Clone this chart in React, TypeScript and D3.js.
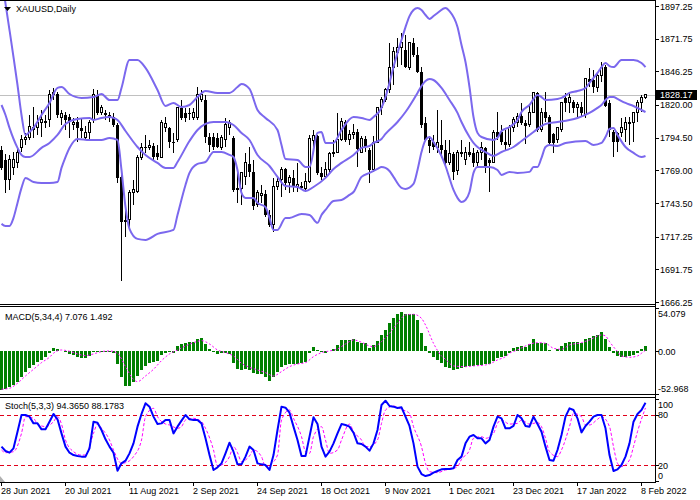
import React from "react";
import * as d3 from "d3";

const title = "XAUUSD,Daily";
const dateLabels = ["28 Jun 2021", "20 Jul 2021", "11 Aug 2021", "2 Sep 2021", "24 Sep 2021", "18 Oct 2021", "9 Nov 2021", "1 Dec 2021", "23 Dec 2021", "17 Jan 2022", "8 Feb 2022"];
const dateBars = [0, 16, 32, 48, 64, 80, 96, 112, 128, 144, 160];
const priceTicks = [1897.25, 1871.75, 1846.25, 1820.0, 1794.5, 1769.0, 1743.5, 1717.25, 1691.75, 1666.25];
const lastPrice = 1828.17;

const opens = [1784.9,1777.1,1761.5,1770.9,1774.8,1786.5,1792.7,1795.0,1800.5,1802.8,1806.0,1806.0,1808.3,1827.8,1828.6,1809.9,1812.2,1810.6,1804.4,1806.7,1802.1,1795.0,1798.9,1808.3,1827.8,1813.8,1813.8,1812.2,1810.6,1804.4,1763.9,1730.3,1730.3,1751.4,1752.1,1778.7,1787.2,1786.5,1788.0,1782.6,1779.4,1802.1,1802.1,1791.1,1792.7,1817.7,1813.8,1813.8,1809.9,1809.9,1823.9,1823.9,1795.0,1795.0,1794.3,1787.2,1792.7,1802.8,1794.3,1755.3,1754.5,1763.9,1774.0,1767.8,1742.0,1749.0,1750.6,1734.2,1726.4,1756.0,1761.5,1770.1,1759.2,1763.1,1756.0,1756.8,1754.5,1759.9,1791.9,1795.8,1767.0,1763.9,1769.3,1781.8,1783.3,1792.7,1806.7,1792.7,1796.6,1798.9,1783.3,1793.5,1784.9,1769.3,1791.1,1818.4,1823.9,1831.7,1849.6,1861.3,1864.5,1862.9,1848.9,1868.4,1859.0,1845.7,1806.0,1792.7,1791.1,1787.2,1788.8,1784.9,1774.8,1781.8,1768.5,1782.6,1777.1,1783.3,1782.6,1774.8,1783.3,1786.5,1777.1,1775.5,1798.9,1798.9,1791.1,1788.8,1802.8,1806.7,1811.4,1806.0,1804.4,1814.5,1829.4,1800.5,1814.5,1810.6,1797.4,1792.7,1800.5,1825.5,1821.6,1822.3,1818.4,1818.4,1812.2,1840.3,1839.5,1834.0,1843.4,1849.6,1821.6,1798.9,1798.2,1798.2,1800.5,1806.7,1806.0,1813.8,1821.6,1825.5];
const highs = [1788.0,1781.8,1781.0,1783.3,1786.5,1796.6,1798.2,1812.2,1818.4,1812.2,1816.1,1812.2,1831.7,1833.3,1830.1,1816.1,1814.5,1813.0,1809.9,1810.6,1809.9,1803.6,1808.3,1832.5,1831.7,1820.0,1816.1,1814.5,1813.8,1806.0,1765.4,1740.4,1753.7,1761.5,1781.0,1790.4,1796.6,1792.7,1790.4,1788.8,1808.3,1810.6,1802.8,1798.2,1818.4,1823.9,1817.7,1817.7,1817.7,1834.0,1831.7,1827.8,1798.2,1798.2,1798.2,1796.6,1809.9,1808.3,1795.8,1767.0,1767.8,1782.6,1787.2,1777.1,1753.7,1757.6,1753.7,1738.1,1763.1,1763.1,1771.6,1770.9,1765.4,1769.3,1774.8,1759.9,1767.0,1796.6,1800.5,1796.6,1771.6,1775.5,1783.3,1792.7,1813.8,1809.9,1808.3,1800.5,1805.2,1801.3,1795.8,1795.8,1786.5,1795.8,1818.4,1826.2,1833.3,1868.4,1865.2,1872.3,1876.2,1874.6,1869.1,1872.3,1865.2,1849.6,1810.6,1795.8,1796.6,1816.1,1808.3,1792.7,1792.7,1783.3,1784.9,1792.7,1787.2,1791.1,1786.5,1784.9,1791.1,1787.2,1778.7,1800.5,1814.5,1804.4,1800.5,1804.4,1810.6,1813.8,1821.6,1808.3,1820.0,1830.1,1830.1,1817.7,1830.1,1812.2,1798.2,1802.8,1822.3,1829.4,1829.4,1823.9,1822.3,1822.3,1841.1,1848.9,1847.3,1845.7,1853.5,1851.2,1823.9,1800.5,1798.9,1809.9,1810.6,1810.6,1814.5,1823.9,1827.8,1828.6];
const lows = [1769.3,1751.4,1753.7,1765.4,1770.9,1783.3,1788.8,1792.7,1794.3,1796.6,1795.0,1802.1,1802.8,1823.9,1809.9,1804.4,1800.5,1794.3,1800.5,1791.1,1794.3,1792.7,1792.7,1806.0,1812.2,1812.2,1808.3,1806.7,1802.8,1759.2,1682.7,1717.0,1722.5,1742.0,1751.4,1777.1,1782.6,1784.9,1777.1,1777.1,1778.7,1798.9,1786.5,1782.6,1791.1,1808.3,1806.7,1808.3,1808.3,1808.3,1822.3,1790.4,1783.3,1784.9,1786.5,1784.9,1787.2,1796.6,1752.1,1743.6,1742.0,1757.6,1763.9,1738.1,1740.4,1743.6,1732.6,1724.8,1720.9,1753.7,1748.2,1753.7,1751.4,1752.1,1752.1,1753.7,1752.1,1759.2,1787.2,1765.4,1761.5,1763.1,1767.0,1779.4,1782.6,1791.9,1791.1,1788.8,1793.5,1771.6,1782.6,1783.3,1759.2,1767.8,1790.4,1812.2,1822.3,1829.4,1835.6,1849.6,1851.2,1848.9,1847.3,1857.4,1845.0,1802.1,1792.7,1782.6,1784.9,1782.6,1778.7,1771.6,1773.2,1761.5,1765.4,1779.4,1773.2,1779.4,1771.6,1771.6,1777.1,1767.0,1752.1,1774.8,1792.7,1788.8,1784.9,1787.2,1798.9,1802.8,1804.4,1789.6,1802.8,1813.8,1798.9,1798.9,1806.7,1788.8,1782.6,1790.4,1798.9,1814.5,1813.8,1813.8,1810.6,1810.6,1809.9,1834.0,1829.4,1830.1,1837.9,1818.4,1795.0,1779.4,1783.3,1795.0,1791.1,1788.8,1791.1,1806.7,1814.5,1824.7];
const closes = [1770.9,1761.5,1777.1,1777.1,1783.3,1792.7,1795.0,1803.6,1802.1,1806.0,1808.3,1807.5,1827.8,1829.4,1812.2,1813.0,1808.3,1806.7,1806.7,1802.1,1799.7,1798.9,1806.0,1827.8,1813.8,1818.4,1812.2,1810.6,1804.4,1763.1,1728.7,1728.7,1751.4,1753.7,1779.4,1787.2,1786.5,1788.0,1779.4,1779.4,1806.0,1805.2,1791.1,1790.4,1817.7,1809.9,1809.9,1813.0,1813.8,1827.8,1827.8,1795.0,1788.8,1787.2,1787.2,1794.3,1804.4,1806.0,1753.7,1753.7,1767.0,1774.8,1767.8,1741.2,1751.4,1750.6,1734.2,1726.4,1756.0,1759.9,1769.3,1759.2,1763.1,1756.0,1757.6,1755.3,1759.9,1793.5,1795.8,1767.0,1763.9,1769.3,1781.8,1783.3,1792.7,1807.5,1792.7,1796.6,1798.9,1785.7,1793.5,1787.2,1769.3,1791.1,1818.4,1823.9,1831.7,1849.6,1862.1,1864.5,1868.4,1849.6,1868.4,1859.0,1845.7,1804.4,1792.7,1788.0,1787.2,1791.1,1784.9,1774.8,1781.8,1767.8,1782.6,1783.3,1783.3,1781.0,1774.8,1783.3,1786.5,1771.6,1774.8,1798.9,1795.0,1791.1,1788.8,1802.8,1808.3,1811.4,1806.0,1803.6,1814.5,1829.4,1800.5,1814.5,1809.9,1790.4,1790.4,1802.1,1821.6,1821.6,1825.5,1817.7,1820.0,1813.8,1840.3,1837.9,1834.0,1843.4,1848.9,1819.2,1800.5,1791.1,1791.1,1802.1,1806.7,1805.2,1813.8,1821.6,1826.2,1828.17];

const bbUpper: [number, number][] = [[0,1919.8],[2,1878.5],[3,1857.4],[4,1835.6],[5,1812.2],[6,1796.6],[7,1798.9],[8,1802.1],[10,1812.2],[12,1821.6],[14,1833.3],[15,1834.0],[17,1828.6],[20,1825.5],[23,1826.2],[25,1828.6],[27,1823.9],[29,1823.9],[30,1833.3],[32,1855.1],[34,1855.1],[36,1848.9],[39,1831.7],[41,1819.2],[43,1821.6],[45,1818.4],[47,1820.0],[49,1826.2],[51,1830.9],[54,1829.4],[57,1829.4],[59,1834.0],[60,1836.4],[62,1832.5],[64,1816.1],[66,1809.9],[69,1800.5],[70,1788.8],[71,1777.9],[74,1777.1],[76,1771.6],[77,1771.6],[79,1798.2],[80,1798.9],[81,1790.4],[83,1790.4],[85,1800.5],[88,1810.6],[90,1809.9],[92,1808.3],[93,1810.6],[95,1817.7],[96,1826.2],[97,1837.2],[98,1849.6],[100,1870.7],[101,1880.8],[102,1889.4],[103,1894.1],[104,1895.7],[105,1894.1],[106,1890.2],[107,1887.1],[108,1889.4],[109,1891.8],[111,1895.7],[112,1893.3],[114,1880.8],[115,1866.8],[116,1853.5],[117,1834.0],[118,1810.6],[119,1798.2],[120,1795.0],[123,1792.7],[124,1794.3],[125,1799.7],[127,1802.8],[129,1808.3],[130,1814.5],[132,1820.0],[134,1827.8],[135,1826.2],[136,1823.9],[139,1824.7],[140,1825.5],[142,1829.4],[144,1830.9],[146,1833.3],[147,1837.2],[149,1845.0],[150,1849.6],[151,1852.8],[152,1850.4],[153,1849.6],[155,1855.1],[158,1855.1],[160,1852.8],[161,1849.6]];
const bbMiddle: [number, number][] = [[0,1820.0],[1,1812.2],[2,1802.1],[4,1786.5],[5,1781.0],[6,1779.4],[7,1779.4],[10,1786.5],[12,1790.4],[14,1796.6],[16,1805.2],[19,1809.1],[22,1809.9],[23,1808.3],[25,1809.9],[27,1810.6],[28,1809.9],[29,1808.3],[31,1799.7],[34,1787.2],[36,1781.0],[39,1774.8],[41,1770.9],[43,1770.9],[44,1775.5],[47,1791.9],[49,1800.5],[51,1805.2],[53,1806.7],[56,1806.7],[58,1804.4],[60,1798.2],[62,1792.7],[64,1781.0],[67,1772.4],[69,1763.9],[71,1756.8],[74,1756.0],[76,1752.9],[78,1756.0],[81,1763.1],[83,1770.1],[85,1774.8],[88,1781.0],[90,1786.5],[92,1788.0],[93,1790.4],[95,1793.5],[96,1797.4],[99,1806.7],[101,1814.5],[104,1829.4],[105,1834.8],[106,1838.7],[107,1840.3],[108,1839.5],[110,1833.3],[112,1823.9],[114,1813.8],[115,1806.7],[117,1795.0],[118,1790.4],[119,1787.2],[121,1783.3],[123,1780.2],[125,1783.3],[128,1787.2],[130,1791.9],[133,1798.9],[135,1803.6],[136,1805.2],[139,1806.7],[142,1808.3],[144,1809.9],[147,1813.8],[149,1817.7],[150,1820.0],[151,1823.9],[152,1826.2],[153,1826.2],[154,1824.7],[156,1821.6],[158,1819.2],[160,1816.1],[161,1814.5]];
const bbLower: [number, number][] = [[0,1727.2],[1,1725.6],[2,1725.6],[3,1731.9],[4,1743.6],[5,1755.3],[6,1763.1],[8,1759.9],[10,1759.2],[12,1759.2],[14,1759.9],[15,1770.9],[16,1779.4],[17,1786.5],[19,1793.5],[22,1792.7],[25,1792.7],[27,1794.3],[29,1792.7],[30,1769.3],[31,1740.4],[32,1723.3],[34,1715.5],[36,1714.7],[39,1719.4],[43,1722.5],[44,1734.2],[46,1757.6],[47,1767.0],[49,1774.0],[51,1775.5],[53,1783.3],[55,1783.3],[57,1781.0],[58,1779.4],[59,1769.3],[60,1751.4],[61,1747.5],[63,1747.5],[64,1743.6],[66,1740.4],[67,1731.9],[68,1722.5],[69,1722.5],[71,1731.9],[72,1731.9],[75,1735.0],[77,1734.2],[79,1728.0],[80,1734.2],[81,1738.1],[83,1745.1],[85,1745.9],[87,1749.8],[88,1752.1],[90,1763.9],[92,1767.0],[94,1770.1],[95,1771.6],[96,1770.9],[97,1768.5],[98,1763.9],[100,1755.3],[101,1754.5],[103,1758.4],[104,1769.3],[105,1783.3],[106,1792.7],[107,1795.0],[108,1791.1],[110,1780.2],[111,1772.4],[113,1753.7],[114,1747.5],[115,1744.3],[116,1745.9],[117,1752.1],[118,1767.0],[119,1771.6],[122,1771.6],[124,1769.3],[125,1765.4],[127,1767.8],[129,1767.0],[132,1767.8],[133,1771.6],[134,1771.6],[135,1778.7],[136,1787.2],[137,1788.8],[139,1788.0],[141,1790.4],[146,1791.9],[148,1788.8],[150,1790.4],[151,1795.0],[152,1801.3],[153,1802.1],[154,1796.6],[156,1787.2],[158,1782.6],[160,1779.4],[161,1780.2]];

const macdLabel = "MACD(5,34,4) 7.076 1.492";
const macdHist = [-46.8,-46.0,-42.8,-40.8,-36.7,-31.4,-24.5,-19.7,-16.4,-13.2,-10.3,-7.1,-2.2,3.9,2.6,1.0,-1.0,-3.0,-4.3,-7.1,-8.3,-8.3,-5.5,-1.0,0.6,0.6,0.2,0.2,-1.4,-15.6,-31.4,-42.0,-42.0,-36.7,-29.8,-22.5,-17.6,-13.6,-12.4,-11.2,-4.3,-1.4,-0.6,-1.4,6.7,9.1,10.7,12.0,12.0,14.8,16.0,9.1,2.6,-0.2,-3.0,-2.2,-1.4,-3.0,-14.4,-21.3,-22.5,-21.7,-22.5,-26.6,-27.4,-27.8,-31.4,-35.9,-30.6,-24.5,-18.5,-16.4,-15.6,-15.6,-15.6,-14.4,-12.4,-1.4,5.1,1.8,-0.2,-1.4,1.0,2.6,7.9,14.0,14.0,14.0,14.8,12.0,10.7,9.9,3.9,7.9,13.2,20.1,26.2,34.3,40.3,45.6,48.5,45.2,45.6,45.6,38.3,22.9,6.7,-1.4,-7.1,-10.3,-14.4,-18.5,-19.7,-22.5,-21.3,-19.7,-18.5,-17.6,-17.6,-16.4,-16.4,-15.6,-15.6,-11.2,-8.3,-6.3,-5.5,-2.2,3.9,5.9,7.1,5.9,9.1,14.8,10.7,10.7,9.9,1.8,1.0,2.6,6.7,10.7,12.0,12.0,12.0,10.7,14.8,16.0,18.9,20.1,24.1,14.8,5.1,-2.2,-5.5,-7.1,-7.1,-5.5,-4.3,-1.4,2.6,7.076];
const macdSignal: [number, number][] = [[0,-46.0],[2,-44.8],[4,-38.7],[6,-29.8],[8,-21.7],[10,-13.6],[12,-7.1],[13,-2.2],[15,1.8],[17,0.2],[19,-3.0],[21,-5.1],[23,-3.0],[25,-0.2],[27,0.6],[29,-2.2],[31,-18.5],[33,-33.9],[34,-36.7],[36,-29.8],[38,-21.7],[40,-11.2],[42,-3.0],[44,1.8],[46,6.7],[48,10.7],[50,13.2],[52,9.1],[54,1.8],[56,-1.4],[58,-5.5],[60,-14.4],[62,-19.3],[64,-22.5],[66,-25.8],[68,-29.8],[70,-24.5],[72,-18.5],[74,-15.2],[76,-13.6],[78,-6.3],[80,-1.4],[82,0.6],[84,3.0],[86,9.1],[88,14.0],[90,11.2],[92,6.7],[93,5.9],[95,12.0],[97,22.1],[99,34.3],[101,44.4],[103,45.2],[105,40.3],[106,32.2],[108,9.9],[110,-5.5],[111,-9.5],[113,-17.6],[116,-18.5],[118,-17.6],[121,-16.4],[122,-15.2],[124,-10.3],[126,-6.3],[127,-2.2],[129,1.8],[131,6.7],[134,10.7],[136,9.9],[138,3.9],[140,2.6],[142,7.9],[145,10.7],[147,14.0],[150,20.1],[151,18.9],[152,12.0],[154,-0.2],[155,-5.5],[157,-7.1],[159,-5.5],[160,-2.2],[161,1.492]];
const macdTicks = [54.079, 0, -52.968];
const macdTickText = ["54.079", "0.00", "-52.968"];

const stochLabel = "Stoch(5,3,3) 94.3650 88.1783";
const stochMain = [42.1,36.9,34.9,40.1,59.9,79.8,79.8,77.8,69.8,69.8,62.7,62.7,71.8,81.0,74.6,57.9,42.1,34.9,32.1,31.0,30.2,30.2,40.1,71.8,70.6,61.9,50.8,42.1,34.9,13.5,22.2,25.4,34.1,46.0,65.9,81.0,93.7,89.7,77.8,69.0,69.8,73.8,73.8,57.9,65.9,73.0,79.8,74.6,73.8,73.8,69.8,52.0,32.1,14.3,17.5,22.2,34.1,46.8,36.1,21.0,21.0,30.2,42.1,38.1,22.2,21.0,20.2,14.3,32.1,61.9,89.7,88.5,82.5,65.9,50.0,31.0,31.0,54.0,77.0,69.0,42.1,30.2,36.1,46.0,57.9,69.0,67.9,65.9,58.7,46.0,45.2,42.1,37.3,46.0,61.9,91.7,96.8,90.5,89.7,88.1,88.9,77.8,66.7,46.0,18.3,9.5,7.1,8.3,11.1,13.1,15.1,15.5,15.5,16.3,26.2,30.2,46.0,54.0,56.0,52.0,52.0,46.0,50.0,65.9,77.8,75.8,63.9,63.9,66.7,79.8,75.8,66.7,65.9,77.8,69.0,59.9,42.1,26.2,25.4,38.1,56.0,77.8,87.7,85.7,75.8,59.1,66.7,71.8,77.8,79.8,79.8,63.9,32.1,13.1,15.1,20.2,30.2,46.0,71.8,81.0,85.7,94.365];
const stochSignal: [number, number][] = [[0,38.1],[1,34.9],[3,36.1],[5,57.9],[6,77.8],[8,75.8],[9,69.0],[11,65.9],[13,71.8],[14,77.8],[15,69.0],[16,50.0],[18,36.1],[20,32.1],[21,32.1],[23,57.9],[24,69.0],[25,63.9],[27,50.0],[28,38.1],[30,22.2],[31,23.0],[33,30.2],[35,50.0],[36,77.8],[38,87.7],[39,77.8],[41,69.0],[42,67.9],[44,63.9],[45,65.9],[46,73.8],[48,75.8],[50,71.8],[51,63.9],[53,38.1],[54,19.0],[55,20.2],[57,30.2],[58,42.1],[59,34.9],[60,24.2],[62,31.0],[63,38.1],[65,30.2],[66,18.3],[67,20.2],[69,32.1],[70,73.8],[72,85.7],[73,75.8],[75,54.0],[76,36.1],[77,34.1],[78,54.0],[80,65.9],[81,50.0],[82,34.1],[84,38.1],[85,50.0],[87,69.0],[88,59.9],[90,50.0],[91,42.1],[92,42.1],[94,50.0],[95,69.8],[96,85.7],[98,90.5],[99,88.9],[100,86.5],[102,81.7],[103,65.9],[105,42.1],[106,22.2],[107,12.3],[109,11.1],[111,14.3],[112,15.1],[114,18.3],[115,27.0],[117,38.1],[118,52.0],[120,54.0],[121,52.0],[123,57.9],[124,69.8],[125,73.8],[127,69.0],[129,69.8],[130,73.8],[132,69.0],[134,70.6],[135,65.9],[136,52.0],[137,36.1],[139,30.2],[140,38.1],[142,65.9],[143,81.7],[145,77.8],[146,67.9],[147,67.9],[149,74.6],[150,77.8],[152,65.9],[153,42.1],[154,22.2],[155,18.3],[157,26.2],[158,42.1],[159,60.0],[160,75.0],[161,88.1783]];
const stochLevels = [80, 20];
const stochTicks = [100, 80, 20, 0];

const FONT = "'Liberation Sans', Arial, sans-serif";

export default function App() {
  const plotR = 655;
  const lastBar = closes.length - 1;
  const x = d3.scaleLinear().domain([0, lastBar]).range([1.5, 1.5 + 4 * lastBar]);
  const yP = d3.scaleLinear().domain([1666.25, 1897.25]).range([302, 6]);
  const yM = d3.scaleLinear().domain([-52.968, 54.079]).range([395, 307]);
  const yS = d3.scaleLinear().domain([0, 100]).range([482, 398]);

  const bandLine = d3.line<[number, number]>().x((d) => x(d[0])).y((d) => yP(d[1])).curve(d3.curveMonotoneX);
  const macdSigLine = d3.line<[number, number]>().x((d) => x(d[0])).y((d) => yM(d[1])).curve(d3.curveMonotoneX);
  const stochSigLine = d3.line<[number, number]>().x((d) => x(d[0])).y((d) => yS(d[1])).curve(d3.curveMonotoneX);
  const stochMainLine = d3.line<number>().x((_, i) => x(i)).y((d) => yS(d));

  const clampLbl = (y: number, top: number, bot: number) => Math.max(top + 10, Math.min(bot - 3, y + 3.5));
  const bidY = yP(lastPrice);

  return (
    <svg width={700} height={500} style={{ position: "absolute", left: 0, top: 0, background: "#fff" }} fontFamily={FONT} fontSize={9}>
      <defs>
        <clipPath id="cMain"><rect x={0} y={1} width={plotR} height={303} /></clipPath>
        <clipPath id="cMacd"><rect x={0} y={307} width={plotR} height={87} /></clipPath>
        <clipPath id="cStoch"><rect x={0} y={398} width={plotR} height={84} /></clipPath>
      </defs>
      <rect x={0} y={0} width={700} height={500} fill="#fff" />

      {/* main panel */}
      <g clipPath="url(#cMain)">
        <line x1={0} x2={plotR} y1={Math.round(bidY) + 0.5} y2={Math.round(bidY) + 0.5} stroke="#c0c0c0" strokeWidth={1} />
        <g shapeRendering="crispEdges">
          {closes.map((c, i) => {
            const o = opens[i];
            const xc = x(i);
            const top = yP(Math.max(o, c));
            const bot = yP(Math.min(o, c));
            const bull = c >= o;
            return (
              <g key={i}>
                <line x1={xc} x2={xc} y1={yP(highs[i])} y2={yP(lows[i])} stroke="#000" strokeWidth={1} />
                {bull ? (
                  <rect x={xc - 1} y={top} width={2} height={Math.max(bot - top, 1)} fill="#fff" stroke="#000" strokeWidth={1} />
                ) : (
                  <rect x={xc - 1.5} y={top} width={3} height={Math.max(bot - top, 1)} fill="#000" />
                )}
              </g>
            );
          })}
        </g>
        {[bbUpper, bbMiddle, bbLower].map((b, k) => (
          <path key={k} d={bandLine(b) || ""} fill="none" stroke="#7b68ee" strokeWidth={2} />
        ))}
      </g>
      <path d="M4,7 L11,7 L7.5,11 Z" fill="#000" />
      <text x={16} y={11.5} fill="#000">{title}</text>

      {/* MACD panel */}
      <g clipPath="url(#cMacd)">
        <g shapeRendering="crispEdges">
          {macdHist.map((v, i) => {
            const y0 = yM(0);
            const y1 = yM(v);
            return <rect key={i} x={x(i) - 1.5} y={Math.min(y0, y1)} width={3} height={Math.max(Math.abs(y1 - y0), 0.6)} fill="#008000" />;
          })}
        </g>
        <path d={macdSigLine(macdSignal) || ""} fill="none" stroke="#ff00ff" strokeWidth={1} strokeDasharray="2,2" />
      </g>
      <text x={5} y={319.5} fill="#000">{macdLabel}</text>

      {/* Stoch panel */}
      <g clipPath="url(#cStoch)">
        {stochLevels.map((lv) => (
          <line key={lv} x1={0} x2={plotR} y1={Math.round(yS(lv)) + 0.5} y2={Math.round(yS(lv)) + 0.5} stroke="#e0001a" strokeWidth={1} strokeDasharray="4,3" />
        ))}
        <path d={stochSigLine(stochSignal) || ""} fill="none" stroke="#ff00ff" strokeWidth={1} strokeDasharray="3,2" />
        <path d={stochMainLine(stochMain) || ""} fill="none" stroke="#0000ff" strokeWidth={2} strokeLinejoin="round" />
      </g>
      <text x={5} y={409} fill="#000">{stochLabel}</text>
      <path d="M0,476 L0,482 L5,482 Z" fill="#b0b0b0" />

      {/* frames */}
      <g stroke="#000" strokeWidth={1} shapeRendering="crispEdges" fill="none">
        <line x1={0} x2={plotR} y1={0.5} y2={0.5} />
        <line x1={0} x2={plotR} y1={304.5} y2={304.5} />
        <line x1={0} x2={plotR} y1={306.5} y2={306.5} />
        <line x1={0} x2={plotR} y1={394.5} y2={394.5} />
        <line x1={0} x2={plotR} y1={397.5} y2={397.5} />
        <line x1={0} x2={plotR} y1={482.5} y2={482.5} />
        <line x1={plotR + 0.5} x2={plotR + 0.5} y1={0} y2={483} />
        {priceTicks.map((p) => (
          <line key={p} x1={plotR} x2={plotR + 4} y1={Math.round(yP(p)) + 0.5} y2={Math.round(yP(p)) + 0.5} />
        ))}
        {macdTicks.map((v) => (
          <line key={v} x1={plotR} x2={plotR + 4} y1={Math.round(Math.max(308, Math.min(394, yM(v)))) + 0.5} y2={Math.round(Math.max(308, Math.min(394, yM(v)))) + 0.5} />
        ))}
        {stochTicks.map((v) => (
          <line key={v} x1={plotR} x2={plotR + 4} y1={Math.round(Math.max(399, Math.min(481, yS(v)))) + 0.5} y2={Math.round(Math.max(399, Math.min(481, yS(v)))) + 0.5} />
        ))}
        {dateBars.map((b) => (
          <line key={b} x1={Math.floor(x(b)) + 0.5} x2={Math.floor(x(b)) + 0.5} y1={482} y2={486} />
        ))}
      </g>

      {/* price axis labels */}
      {priceTicks.map((p) => (
        <text key={p} x={660} y={yP(p) + 3.5} fill="#000">{p.toFixed(2)}</text>
      ))}
      <rect x={656} y={Math.round(bidY) - 5} width={41} height={10} fill="#000" />
      <text x={660} y={bidY + 3.5} fill="#fff">{lastPrice.toFixed(2)}</text>

      {macdTicks.map((v, k) => (
        <text key={v} x={658} y={clampLbl(yM(v), 307, 395)} fill="#000">{macdTickText[k]}</text>
      ))}
      {stochTicks.map((v) => (
        <text key={v} x={658} y={clampLbl(yS(v), 398, 482)} fill="#000">{v}</text>
      ))}

      {dateLabels.map((d, k) => (
        <text key={d} x={x(dateBars[k]) - 0.5} y={494.3} fill="#000">{d}</text>
      ))}
    </svg>
  );
}
